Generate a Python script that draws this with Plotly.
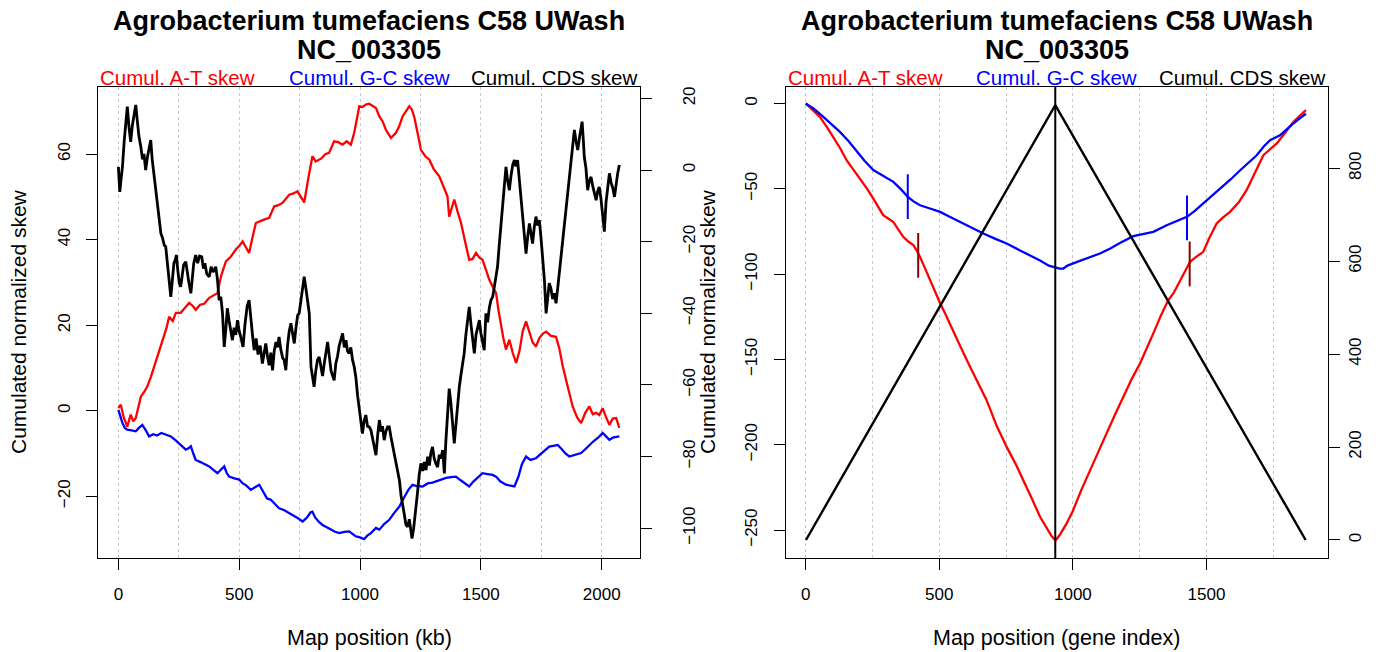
import plotly.graph_objects as go

# ---------------- Left panel: map position in kb ----------------
at_kb = [0, 10, 22, 37, 51, 62, 72, 85, 93, 108, 120, 135, 148, 165, 182, 199, 210, 225, 238, 258,
         275, 293, 308, 320, 338, 355, 376, 392, 410, 425, 445, 465, 486, 500, 514, 530, 541, 555, 569, 595,
         624, 645, 660, 679, 707, 725, 741, 755, 769, 785, 803, 817, 840, 856, 872, 893, 910, 928, 945, 962,
         976, 988, 997, 1010, 1024, 1038, 1052, 1066, 1080, 1093, 1107, 1128, 1149, 1162, 1176, 1190, 1204, 1214, 1224, 1238,
         1252, 1270, 1287, 1305, 1328, 1345, 1362, 1369, 1380, 1390, 1404, 1418, 1435, 1452, 1466, 1480, 1494, 1507, 1521, 1535,
         1549, 1563, 1573, 1583, 1593, 1604, 1618, 1632, 1646, 1660, 1673, 1687, 1700, 1714, 1728, 1742, 1756, 1770, 1790, 1811,
         1825, 1839, 1860, 1880, 1898, 1915, 1932, 1949, 1963, 1977, 1990, 2004, 2018, 2032, 2046, 2060, 2073]
at_skew_kb = [0.6, 1.4, -1.5, -3.7, -0.9, -2.5, -1.7, 1.0, 3.3, 4.5, 5.7, 8.0, 10.4, 13.5, 16.6, 19.3, 22.0, 21.0, 22.9, 22.9,
              24.0, 25.2, 24.5, 23.6, 24.8, 25.0, 26.4, 27.0, 27.5, 31.5, 34.9, 36.0, 37.7, 38.5, 39.6, 38.0, 36.9, 40.5, 43.9, 44.5,
              45.1, 47.8, 48.0, 48.6, 50.5, 50.8, 51.3, 50.0, 48.7, 54.0, 59.5, 58.3, 59.0, 60.0, 60.3, 63.0, 62.8, 62.2, 63.0, 62.2,
              65.0, 68.5, 71.2, 71.0, 71.6, 71.8, 71.2, 70.8, 68.8, 67.7, 65.7, 63.8, 65.0, 66.5, 68.8, 70.0, 71.2, 70.5, 68.8, 65.0,
              61.0, 59.5, 58.7, 56.5, 54.8, 52.5, 50.1, 45.4, 47.5, 49.4, 46.5, 43.9, 39.5, 35.3, 35.5, 36.9, 35.8, 35.3, 33.0, 30.6,
              29.0, 27.5, 23.5, 19.7, 17.0, 14.3, 16.6, 13.5, 11.2, 14.0, 18.5, 20.9, 18.5, 16.0, 15.0, 17.0, 18.0, 18.5, 17.5, 17.3,
              14.5, 10.4, 5.5, 1.0, -1.5, -2.9, -0.5, 1.0, -0.8, -0.5, -1.0, 0.6, -1.5, -3.3, -1.8, -1.7, -4.0]

gc_kb = [0, 8, 17, 27, 37, 55, 72, 85, 99, 113, 127, 145, 160, 178, 196, 217, 235, 251, 265, 279,
         290, 300, 310, 320, 340, 360, 376, 393, 410, 424, 438, 448, 458, 480, 500, 515, 530, 548, 565, 583,
         600, 615, 631, 648, 665, 685, 707, 725, 745, 762, 780, 795, 803, 815, 830, 845, 862, 880, 897, 914,
         935, 955, 970, 983, 1000, 1017, 1030, 1045, 1066, 1080, 1100, 1121, 1140, 1163, 1180, 1200, 1217, 1235, 1259, 1280,
         1300, 1314, 1335, 1356, 1377, 1397, 1415, 1433, 1452, 1470, 1490, 1507, 1528, 1549, 1565, 1580, 1604, 1620, 1639, 1655,
         1670, 1687, 1705, 1728, 1750, 1765, 1783, 1800, 1818, 1835, 1850, 1866, 1880, 1900, 1915, 1932, 1949, 1965, 1985, 2004,
         2018, 2032, 2046, 2060, 2073]
gc_skew_kb = [0.2, -1.5, -2.9, -4.0, -4.4, -4.6, -4.8, -4.0, -3.3, -4.5, -6.0, -5.5, -5.8, -5.2, -5.6, -6.0, -6.8, -7.6, -8.5, -9.1,
              -8.8, -8.3, -10.0, -11.5, -12.0, -12.5, -13.0, -13.8, -14.6, -13.8, -13.0, -14.5, -15.4, -15.8, -16.1, -17.0, -17.5, -18.5, -18.0, -17.3,
              -19.0, -20.5, -20.8, -21.8, -22.8, -23.2, -23.9, -24.5, -25.2, -25.9, -25.0, -23.8, -23.6, -25.0, -26.0, -26.7, -27.2, -27.8, -28.3, -28.6,
              -28.3, -28.2, -28.8, -29.4, -29.6, -30.0, -29.2, -28.6, -27.4, -27.8, -26.5, -25.5, -24.0, -22.4, -20.5, -18.5, -17.3, -17.6, -17.7, -17.0,
              -16.8, -16.5, -16.2, -15.7, -15.5, -15.4, -16.2, -17.0, -17.7, -16.5, -15.5, -14.6, -14.8, -15.0, -15.5, -16.5, -17.3, -17.5, -17.7, -15.5,
              -12.5, -10.7, -11.5, -11.1, -10.0, -9.2, -8.4, -8.2, -8.0, -9.0, -10.0, -10.7, -10.5, -10.2, -9.9, -9.0, -8.0, -7.2, -6.3, -5.2,
              -6.0, -6.8, -6.3, -6.2, -6.0]

cds_kb = [0, 6, 12, 17, 24, 30, 37, 44, 51, 58, 65, 72, 78, 85, 93, 100, 106, 113, 120, 127,
          134, 140, 148, 155, 162, 169, 176, 183, 190, 196, 203, 210, 217, 223, 230, 236, 240, 246, 252, 258,
          264, 270, 279, 285, 292, 300, 306, 312, 320, 328, 336, 345, 352, 358, 366, 376, 384, 392, 403, 410,
          417, 424, 431, 438, 445, 451, 458, 465, 472, 479, 486, 493, 500, 508, 516, 524, 533, 541, 548, 555,
          562, 570, 578, 587, 596, 603, 610, 617, 624, 631, 638, 645, 652, 658, 665, 672, 680, 686, 693, 700,
          707, 714, 721, 728, 735, 742, 748, 755, 762, 769, 776, 783, 790, 797, 804, 810, 817, 824, 831, 838,
          845, 852, 859, 866, 873, 880, 887, 893, 900, 907, 914, 921, 928, 935, 942, 948, 955, 962, 969, 976,
          983, 990, 997, 1003, 1010, 1017, 1024, 1031, 1038, 1045, 1052, 1059, 1066, 1073, 1080, 1087, 1093, 1100, 1107, 1114,
          1121, 1128, 1135, 1142, 1150, 1156, 1163, 1170, 1176, 1183, 1190, 1197, 1204, 1210, 1215, 1222, 1231, 1238, 1245, 1252,
          1259, 1266, 1273, 1280, 1287, 1293, 1300, 1307, 1314, 1321, 1328, 1335, 1342, 1349, 1355, 1362, 1369, 1376, 1383, 1390,
          1397, 1404, 1411, 1418, 1424, 1431, 1438, 1445, 1452, 1459, 1466, 1473, 1480, 1487, 1494, 1500, 1507, 1514, 1521, 1528,
          1535, 1542, 1549, 1556, 1562, 1569, 1576, 1583, 1590, 1597, 1604, 1611, 1618, 1625, 1632, 1639, 1645, 1652, 1659, 1666,
          1673, 1680, 1687, 1694, 1701, 1707, 1714, 1721, 1728, 1735, 1742, 1749, 1756, 1763, 1770, 1776, 1783, 1790, 1797, 1804,
          1811, 1818, 1825, 1832, 1839, 1846, 1853, 1860, 1866, 1873, 1880, 1887, 1894, 1901, 1908, 1914, 1919, 1924, 1928, 1935,
          1942, 1949, 1956, 1963, 1970, 1977, 1983, 1990, 1997, 2004, 2011, 2018, 2025, 2032, 2039, 2046, 2053, 2060, 2066, 2073]
cds_skew_kb = [0.9, -6.1, -2.0, 0.9, 8.0, 13.0, 17.7, 12.0, 7.9, 12.5, 16.0, 18.2, 14.0, 9.5, 6.5, 3.0, 4.5, 0.0, 3.5, 6.0,
               8.4, 3.0, -1.5, -5.6, -9.0, -13.5, -17.7, -19.0, -21.0, -21.4, -26.0, -31.0, -35.4, -31.0, -26.0, -25.0, -23.7, -28.0, -31.5, -32.6,
               -29.0, -26.5, -25.6, -29.0, -31.5, -34.4, -30.0, -26.0, -23.7, -26.0, -24.0, -24.2, -27.5, -26.0, -29.0, -29.8, -27.0, -28.5, -27.0, -30.5,
               -36.3, -35.4, -40.0, -49.4, -44.2, -38.6, -42.0, -45.5, -47.5, -44.0, -46.0, -41.9, -45.0, -47.0, -49.4, -43.0, -38.0, -36.3, -42.0, -46.0,
               -50.3, -47.0, -51.5, -49.0, -54.0, -51.0, -48.4, -52.0, -54.5, -51.0, -55.9, -50.5, -48.0, -49.5, -46.6, -50.0, -52.5, -53.0, -55.9, -49.0,
               -45.0, -42.8, -46.0, -48.4, -44.0, -40.5, -40.0, -37.0, -33.0, -29.8, -33.0, -36.5, -40.0, -54.9, -57.5, -60.5, -56.0, -53.0, -52.2, -55.0,
               -57.5, -54.0, -50.5, -48.0, -52.0, -56.0, -57.5, -58.7, -54.0, -52.0, -49.0, -47.5, -45.6, -49.5, -47.5, -50.5, -51.2, -49.5, -53.0, -54.9,
               -58.0, -63.0, -67.0, -70.5, -73.6, -70.0, -68.4, -71.5, -71.7, -72.6, -75.0, -77.5, -79.6, -74.0, -69.8, -73.0, -71.5, -75.4, -73.0, -71.7,
               -71.7, -74.5, -77.0, -80.1, -82.0, -84.5, -86.6, -91.0, -94.0, -96.0, -99.0, -99.6, -97.5, -101.5, -102.9, -100.0, -95.0, -90.0, -85.0, -81.9,
               -84.0, -81.5, -83.8, -80.0, -82.5, -79.0, -77.3, -80.5, -82.0, -82.9, -79.5, -80.5, -78.2, -84.7, -76.0, -67.0, -61.0, -65.0, -70.0, -76.3,
               -71.0, -65.0, -60.5, -57.0, -54.0, -51.2, -46.0, -42.0, -38.2, -43.0, -48.0, -51.2, -46.0, -44.0, -41.9, -45.5, -48.0, -50.3, -40.0, -42.5,
               -38.5, -36.3, -35.4, -32.0, -30.0, -27.0, -21.0, -15.0, -9.3, -3.5, 0.9, -3.0, -5.6, -1.5, 1.5, 2.8, 1.0, 2.8, -2.5, -8.0,
               -13.0, -19.0, -23.3, -18.5, -14.9, -17.5, -20.5, -16.0, -13.0, -15.5, -14.0, -19.0, -25.0, -30.7, -40.0, -35.0, -31.6, -33.0, -36.0, -34.4,
               -37.2, -33.0, -28.5, -25.0, -21.4, -16.0, -10.5, -6.0, -2.5, 1.9, 6.5, 11.2, 8.0, 5.6, 9.0, 11.5, 13.5, 8.5, 3.7, 0.5,
               -5.6, -3.0, -1.9, -4.5, -6.5, -8.4, -6.0, -4.7, -8.0, -12.0, -17.2, -9.0, -4.0, -0.9, -3.5, -5.0, -7.5, -3.0, -1.0, 1.4]

# ---------------- Right panel: map position by gene index ----------------
at_gene = [0, 25, 53, 80, 103, 130, 153, 180, 203, 230, 253, 270, 290, 310, 328, 345, 365, 385, 403, 415,
           428, 445, 465, 485, 503, 520, 540, 575, 615, 645, 677, 715, 752, 785, 815, 845, 877, 905, 920, 935,
           950, 975, 1001, 1030, 1064, 1095, 1126, 1160, 1189, 1220, 1251, 1280, 1301, 1330, 1357, 1376, 1400, 1420, 1438, 1460,
           1488, 1510, 1538, 1560, 1588, 1620, 1650, 1680, 1713, 1740, 1763, 1795, 1825, 1850, 1872]
at_skew_gene = [0, -3.5, -7.8, -14.0, -19.6, -26.5, -33.2, -39.0, -43.9, -50.0, -55.7, -60.0, -65.4, -67.5, -69.4, -73.5, -78.1, -81.0, -83.0, -86.0,
                -89.9, -96.0, -103.5, -110.0, -117.0, -122.5, -128.9, -141.0, -154.3, -163.5, -173.8, -189.0, -201.2, -211.0, -220.7, -231.0, -242.2, -250.0, -253.5, -256.0,
                -253.0, -246.5, -238.3, -227.0, -214.8, -204.0, -193.3, -181.5, -171.9, -161.5, -152.3, -142.5, -134.7, -124.0, -115.2, -111.3, -104.0, -97.5, -92.8, -90.0,
                -86.9, -79.0, -70.3, -67.0, -63.5, -58.0, -50.8, -41.0, -30.3, -26.5, -23.4, -17.0, -10.8, -7.0, -3.9]

gc_gene = [0, 30, 66, 100, 128, 160, 191, 220, 253, 290, 328, 355, 382, 405, 428, 465, 503, 535, 565, 615,
           665, 710, 752, 795, 839, 877, 910, 933, 950, 964, 980, 1001, 1050, 1101, 1140, 1176, 1226, 1265, 1301, 1351,
           1390, 1427, 1455, 1488, 1520, 1551, 1590, 1626, 1660, 1688, 1715, 1738, 1775, 1800, 1825, 1850, 1872]
gc_skew_gene = [0, -3.0, -7.8, -12.5, -16.6, -22.0, -28.3, -33.5, -39.0, -42.5, -45.9, -50.0, -54.7, -57.5, -59.6, -61.5, -63.5, -66.0, -68.4, -72.3,
                -76.2, -79.3, -82.0, -85.5, -88.9, -92.0, -95.0, -96.3, -96.8, -96.7, -95.0, -93.7, -91.0, -87.9, -85.0, -81.7, -77.7, -76.5, -75.2, -71.3,
                -69.0, -66.4, -63.0, -58.6, -54.0, -49.8, -44.5, -39.1, -34.5, -30.3, -25.0, -21.5, -18.6, -15.0, -11.7, -8.5, -6.0]

cds_gene = [1, 934, 1871]
cds_skew_gene = [0, 936, 0]

origin_gene = 934
gc_shift_gene, gc_shift_val = [382, 1427], [-54.5, -67.0]
at_shift_gene, at_shift_val = [421, 1437], [-89.0, -94.0]

# ---------------- Styling ----------------
FONT = "Liberation Sans"
TITLE_LINES = ["Agrobacterium tumefaciens C58 UWash", "NC_003305"]
RED, BLUE, BLACK, DARKRED = "#ff0000", "#0000ff", "#000000", "#8b0000"
GRID = dict(showgrid=True, gridcolor="#c8c8c8", griddash="dot", gridwidth=1)
Y_DOM = [0.1437, 0.8666]
LEFT_DOM = [0.07103, 0.46243]
RIGHT_DOM = [0.56770, 0.95975]

fig = go.Figure()

# left panel traces
fig.add_trace(go.Scatter(x=at_kb, y=at_skew_kb, mode="lines", line=dict(color=RED, width=2.3),
                         xaxis="x", yaxis="y"))
fig.add_trace(go.Scatter(x=gc_kb, y=gc_skew_kb, mode="lines", line=dict(color=BLUE, width=2.3),
                         xaxis="x", yaxis="y"))
fig.add_trace(go.Scatter(x=cds_kb, y=cds_skew_kb, mode="lines", line=dict(color=BLACK, width=2.8),
                         xaxis="x", yaxis="y2"))

# right panel traces
fig.add_trace(go.Scatter(x=at_gene, y=at_skew_gene, mode="lines", line=dict(color=RED, width=2.3),
                         xaxis="x2", yaxis="y3"))
fig.add_trace(go.Scatter(x=gc_gene, y=gc_skew_gene, mode="lines", line=dict(color=BLUE, width=2.3),
                         xaxis="x2", yaxis="y3"))
fig.add_trace(go.Scatter(x=gc_shift_gene, y=gc_shift_val, mode="markers", xaxis="x2", yaxis="y3",
                         marker=dict(symbol="line-ns", size=32, line=dict(color=BLUE, width=2))))
fig.add_trace(go.Scatter(x=at_shift_gene, y=at_shift_val, mode="markers", xaxis="x2", yaxis="y3",
                         marker=dict(symbol="line-ns", size=32, line=dict(color=DARKRED, width=2))))
fig.add_trace(go.Scatter(x=cds_gene, y=cds_skew_gene, mode="lines", line=dict(color=BLACK, width=2.4),
                         xaxis="x2", yaxis="y4"))

fig.add_shape(type="line", xref="x2", yref="y3 domain", x0=origin_gene, x1=origin_gene, y0=0, y1=1,
              line=dict(color=BLACK, width=2))

tickfont = dict(family=FONT, size=17, color="black")
xcommon = dict(showline=True, mirror=True, linecolor="black", linewidth=1, ticks="outside", ticklen=11,
               tickcolor="black", tickfont=tickfont, zeroline=False, dtick=500, tick0=0,
               ticklabelstandoff=9, minor=dict(dtick=250, tick0=0, ticks="", **GRID), **GRID)
ycommon = dict(ticks="outside", ticklen=11, tickcolor="black", tickfont=tickfont, tickangle=-90,
               zeroline=False, showgrid=False)

fig.update_layout(
    width=1384, height=652, margin=dict(l=0, r=0, t=0, b=0),
    plot_bgcolor="white", paper_bgcolor="white", showlegend=False,
    xaxis=dict(domain=LEFT_DOM, range=[-83, 2158.6], anchor="y", **xcommon),
    yaxis=dict(domain=Y_DOM, range=[-34.5, 75.7], dtick=20, tick0=0, anchor="x",
               showline=True, mirror=True, linecolor="black", linewidth=1, ticklabelstandoff=10, **ycommon),
    yaxis2=dict(range=[-108.4, 23.2], dtick=20, tick0=0, overlaying="y", side="right", anchor="x",
                showline=False, ticklabelstandoff=23, **ycommon),
    xaxis2=dict(domain=RIGHT_DOM, range=[-74.9, 1955.8], anchor="y3", **xcommon),
    yaxis3=dict(domain=Y_DOM, range=[-266.5, 9.7], dtick=50, tick0=0, anchor="x2",
                showline=True, mirror=True, linecolor="black", linewidth=1, ticklabelstandoff=10, **ycommon),
    yaxis4=dict(range=[-39.4, 975], dtick=200, tick0=0, overlaying="y3", side="right", anchor="x2",
                showline=False, ticklabelstandoff=0, **ycommon),
)

# titles, series labels and axis titles
ann = []
for xa, xtitle, ytitle_x in (("x", "Map position (kb)", 18 / 1384), ("x2", "Map position (gene index)", 707 / 1384)):
    ref = xa + " domain"
    for line_text, ypix in zip(TITLE_LINES, (21, 50)):
        ann.append(dict(xref=ref, yref="paper", x=0.5, y=1 - ypix / 652, text=line_text, showarrow=False,
                        xanchor="center", yanchor="middle",
                        font=dict(family=FONT, size=27, color="black", weight="bold")))
    ann.append(dict(xref=ref, yref="paper", x=0, y=1 - 77.5 / 652, text="Cumul. A-T skew", showarrow=False,
                    xanchor="left", yanchor="middle", font=dict(family=FONT, size=20.5, color=RED)))
    ann.append(dict(xref=ref, yref="paper", x=0.5, y=1 - 77.5 / 652, text="Cumul. G-C skew", showarrow=False,
                    xanchor="center", yanchor="middle", font=dict(family=FONT, size=20.5, color=BLUE)))
    ann.append(dict(xref=ref, yref="paper", x=1, y=1 - 77.5 / 652, text="Cumul. CDS skew", showarrow=False,
                    xanchor="right", yanchor="middle", font=dict(family=FONT, size=20.5, color="black")))
    ann.append(dict(xref=ref, yref="paper", x=0.5, y=1 - 638 / 652, text=xtitle, showarrow=False,
                    xanchor="center", yanchor="middle", font=dict(family=FONT, size=21.5, color="black")))
    ann.append(dict(xref="paper", yref="paper", x=ytitle_x, y=1 - 322 / 652, text="Cumulated normalized skew",
                    showarrow=False, textangle=-90, xanchor="center", yanchor="middle",
                    font=dict(family=FONT, size=21, color="black")))
fig.update_layout(annotations=ann)

fig.write_html("out.html")
